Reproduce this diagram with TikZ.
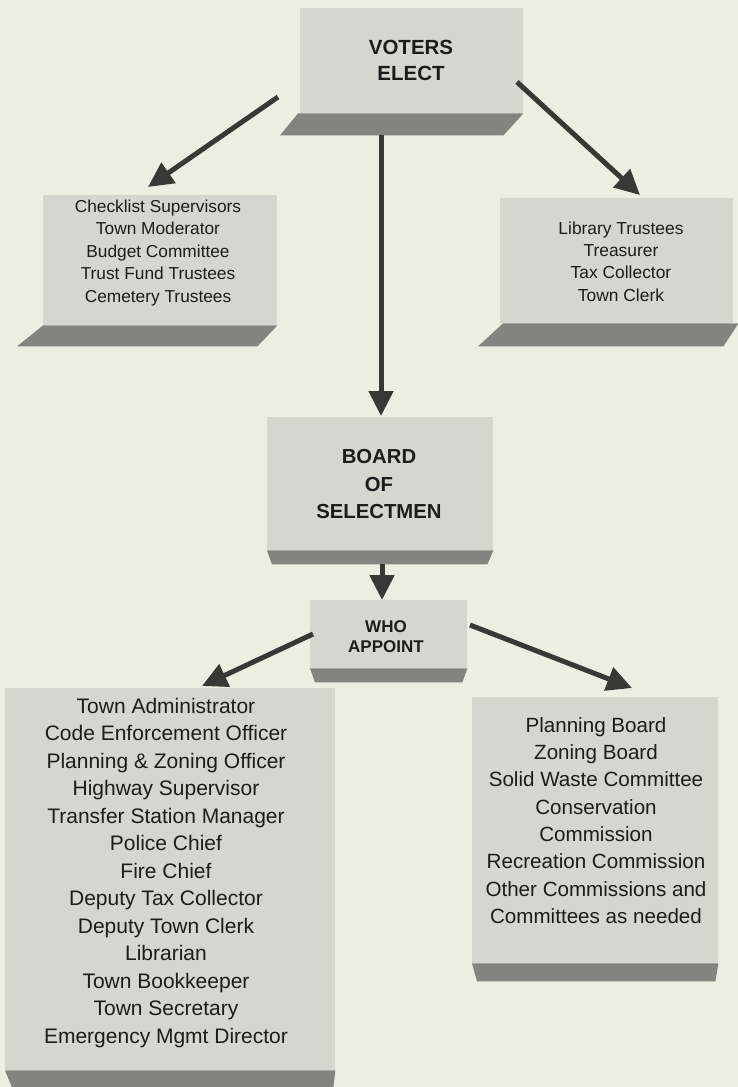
\documentclass[tikz,border=0pt]{standalone}
\usepackage{fontspec}
\setmainfont{Liberation Sans}
\usetikzlibrary{arrows.meta,calc}
\definecolor{bg}{RGB}{236,238,225}
\definecolor{boxgray}{RGB}{213,215,207}
\definecolor{bandgray}{RGB}{132,132,126}
\definecolor{arrowgray}{RGB}{56,56,52}
\definecolor{inkgray}{RGB}{28,28,26}
\tikzset{
  panel/.style={fill=boxgray, draw=none, inner sep=0pt, anchor=north west},
  band/.style={fill=bandgray, draw=none},
  txt/.style={align=center, inner sep=0pt, text=inkgray},
  conn/.style={draw=arrowgray, line width=5pt, -{Triangle[length=25pt,width=24pt]}},
}
\begin{document}
\begin{tikzpicture}[x=1pt,y=-1pt]
\fill[bg] (0,0) rectangle (738,1087);
\useasboundingbox (0,0) rectangle (738,1087);

% panels
\node[panel, minimum width=223pt, minimum height=105pt] (voters) at (300,8) {};
\node[panel, minimum width=234pt, minimum height=130pt] (elleft) at (43,195) {};
\node[panel, minimum width=233pt, minimum height=125pt] (elright) at (500,198) {};
\node[panel, minimum width=226pt, minimum height=133pt] (board) at (267,417) {};
\node[panel, minimum width=157pt, minimum height=68pt] (who) at (310,600) {};
\node[panel, minimum width=330pt, minimum height=382pt] (staff) at (5,688) {};
\node[panel, minimum width=246pt, minimum height=266pt] (boards) at (472,697) {};

% bottom bands
\fill[band] ($(voters.south west)+(-2,0)$) -- (voters.south east) -- ($(voters.south east)+(-20,22)$) -- ($(voters.south west)+(-20,22)$) -- cycle;
\fill[band] (elleft.south west) -- (elleft.south east) -- ($(elleft.south east)+(-20,21)$) -- ($(elleft.south west)+(-26,21)$) -- cycle;
\fill[band] ($(elright.south west)+(3,0)$) -- ($(elright.south east)+(5,0)$) -- ($(elright.south east)+(-10,23)$) -- ($(elright.south west)+(-22,23)$) -- cycle;
\fill[band] (board.south west) -- (board.south east) -- ($(board.south east)+(-6,14)$) -- ($(board.south west)+(5,14)$) -- cycle;
\fill[band] (who.south west) -- (who.south east) -- ($(who.south east)+(-5,14)$) -- ($(who.south west)+(5,14)$) -- cycle;
\fill[band] (staff.south west) -- (staff.south east) -- ($(staff.south east)+(-2,17)$) -- ($(staff.south west)+(7,17)$) -- cycle;
\fill[band] (boards.south west) -- (boards.south east) -- ($(boards.south east)+(-3,18)$) -- ($(boards.south west)+(5,18)$) -- cycle;

% texts
\node[txt, font=\bfseries\fontsize{20.5}{26}\selectfont] (tvoters) at (411,60) {VOTERS\\ELECT};
\node[txt, font=\fontsize{17.3}{22.5}\selectfont] (telleft) at (158,253) {Checklist Supervisors\\Town Moderator\\Budget Committee\\Trust Fund Trustees\\Cemetery Trustees};
\node[txt, font=\fontsize{17.4}{22.3}\selectfont] (telright) at (621,261.5) {Library Trustees\\Treasurer\\Tax Collector\\Town Clerk};
\node[txt, font=\bfseries\fontsize{20.3}{27.5}\selectfont] (tboard) at (379,484.5) {BOARD\\OF\\SELECTMEN};
\node[txt, font=\bfseries\fontsize{17}{20}\selectfont] (twho) at (386,637) {WHO\\APPOINT};
\node[txt, font=\fontsize{21}{27.5}\selectfont] (tstaff) at (166,873) {Town Administrator\\Code Enforcement Officer\\Planning \& Zoning Officer\\Highway Supervisor\\Transfer Station Manager\\Police Chief\\Fire Chief\\Deputy Tax Collector\\Deputy Town Clerk\\Librarian\\Town Bookkeeper\\Town Secretary\\Emergency Mgmt Director};
\node[txt, font=\fontsize{20.6}{27.3}\selectfont] (tboards) at (596,820.5) {Planning Board\\Zoning Board\\Solid Waste Committee\\Conservation\\Commission\\Recreation Commission\\Other Commissions and\\Committees as needed};

% connector ends
\coordinate (vl) at (278,97);
\coordinate (vr) at (517,82);
\coordinate (vb) at (381,135);
\coordinate (lt) at (148,187);
\coordinate (rt) at (640,195);
\coordinate (bt) at (381,416);
\coordinate (bb) at (382,564);
\coordinate (wt) at (382,600);
\coordinate (wl) at (313,634);
\coordinate (wr) at (470,625);
\coordinate (st) at (202,686);
\coordinate (ct) at (632,688);

\draw[conn] (vl) -- (lt);
\draw[conn] (vr) -- (rt);
\draw[conn] (vb) -- (bt);
\draw[conn] (bb) -- (wt);
\draw[conn] (wl) -- (st);
\draw[conn] (wr) -- (ct);
\end{tikzpicture}
\end{document}
